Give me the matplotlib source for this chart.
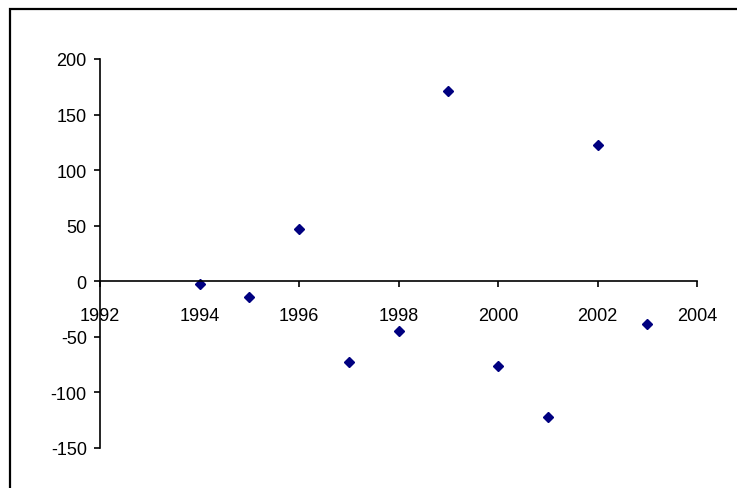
import matplotlib.pyplot as plt
from matplotlib.patches import Rectangle

# Data
years = [1994, 1995, 1996, 1997, 1998, 1999, 2000, 2001, 2002, 2003]
values = [-2, -14, 47, -73, -45, 171, -76, -122, 123, -38]

x_ticks = [1992, 1994, 1996, 1998, 2000, 2002, 2004]
y_ticks = [-150, -100, -50, 0, 50, 100, 150, 200]

plt.rcParams['font.family'] = ['Liberation Sans', 'DejaVu Sans']
plt.rcParams['axes.unicode_minus'] = False

fig = plt.figure(figsize=(7.37, 4.89), dpi=100)
ax = fig.add_axes([100 / 737, 1 - 449 / 489, 597 / 737, 389 / 489])

# Outer chart frame (only top and left edges visible in the crop)
fig.patches.append(Rectangle((10 / 737, -0.1), 1.2, 1.1 - 10 / 489,
                             transform=fig.transFigure, fill=False,
                             edgecolor='black', lw=1.6))

ax.plot(years, values, linestyle='none', marker='D', markersize=5.5,
        color='#000080')

ax.set_xlim(1992, 2004)
ax.set_ylim(-150, 200)
ax.set_xticks(x_ticks)
ax.set_yticks(y_ticks)

ax.spines['top'].set_visible(False)
ax.spines['right'].set_visible(False)
ax.spines['bottom'].set_position(('data', 0))
for s in ('left', 'bottom'):
    ax.spines[s].set_linewidth(1.2)

ax.tick_params(direction='out', length=4.5, width=1.2, labelsize=13)
ax.tick_params(axis='x', pad=14)
ax.tick_params(axis='y', pad=5)

fig.savefig('out.png', dpi=100)
